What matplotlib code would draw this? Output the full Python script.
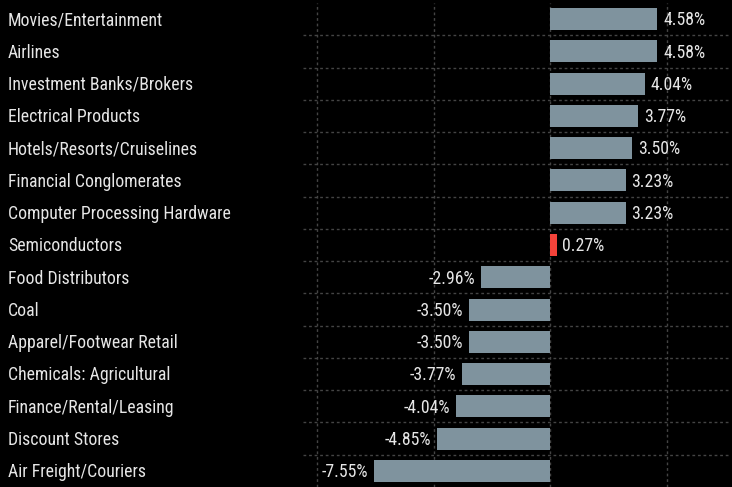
import matplotlib
matplotlib.use("Agg")
import matplotlib.pyplot as plt
from matplotlib.transforms import blended_transform_factory
import numpy as np

# sector performance, top to bottom
sectors = [
    "Movies/Entertainment", "Airlines", "Investment Banks/Brokers",
    "Electrical Products", "Hotels/Resorts/Cruiselines", "Financial Conglomerates",
    "Computer Processing Hardware", "Semiconductors", "Food Distributors", "Coal",
    "Apparel/Footwear Retail", "Chemicals: Agricultural", "Finance/Rental/Leasing",
    "Discount Stores", "Air Freight/Couriers",
]
changes = [4.58, 4.58, 4.04, 3.77, 3.50, 3.23, 3.23, 0.27,
           -2.96, -3.50, -3.50, -3.77, -4.04, -4.85, -7.55]

bar_color = "#7f939e"
hi_color = "#f4433a"
text_color = "#e6e6e6"
font = ["Roboto Condensed", "Roboto", "DejaVu Sans"]

fig = plt.figure(figsize=(7.32, 4.87), dpi=100, facecolor="black")
ax = fig.add_axes([303 / 732, 0, 427 / 732, 484 / 487])
ax.set_facecolor("black")

y = np.arange(len(sectors))
colors = [hi_color if s == "Semiconductors" else bar_color for s in sectors]
ax.barh(y, changes, height=0.68, color=colors, zorder=3)

ax.set_xlim(-10.6, 7.7)
ax.set_ylim(len(sectors) - 0.5, -0.5)

ax.set_xticks([-10, -5, 0, 5])
ax.set_yticks(y)
ax.set_yticks(np.arange(len(sectors) - 1) + 0.5, minor=True)
ax.grid(axis="x", color="#444444", linestyle=(0, (2, 2)), linewidth=1, zorder=0)
ax.grid(axis="y", which="minor", color="#444444", linestyle=(0, (2, 2)), linewidth=1, zorder=0)
ax.tick_params(which="both", length=0, labelbottom=False, labelleft=False)
for sp in ax.spines.values():
    sp.set_visible(False)

label_tf = blended_transform_factory(fig.transFigure, ax.transData)
for yi, (name, v) in enumerate(zip(sectors, changes)):
    ax.text(8 / 732, yi + 0.04, name, color=text_color, fontsize=12.8, family=font,
            ha="left", va="center", transform=label_tf)
    off = 0.25 if v >= 0 else -0.25
    ax.text(v + off, yi + 0.04, f"{v:.2f}%", color=text_color, fontsize=12.8, family=font,
            ha="left" if v >= 0 else "right", va="center")

fig.savefig("out.png", dpi=100, facecolor="black")
